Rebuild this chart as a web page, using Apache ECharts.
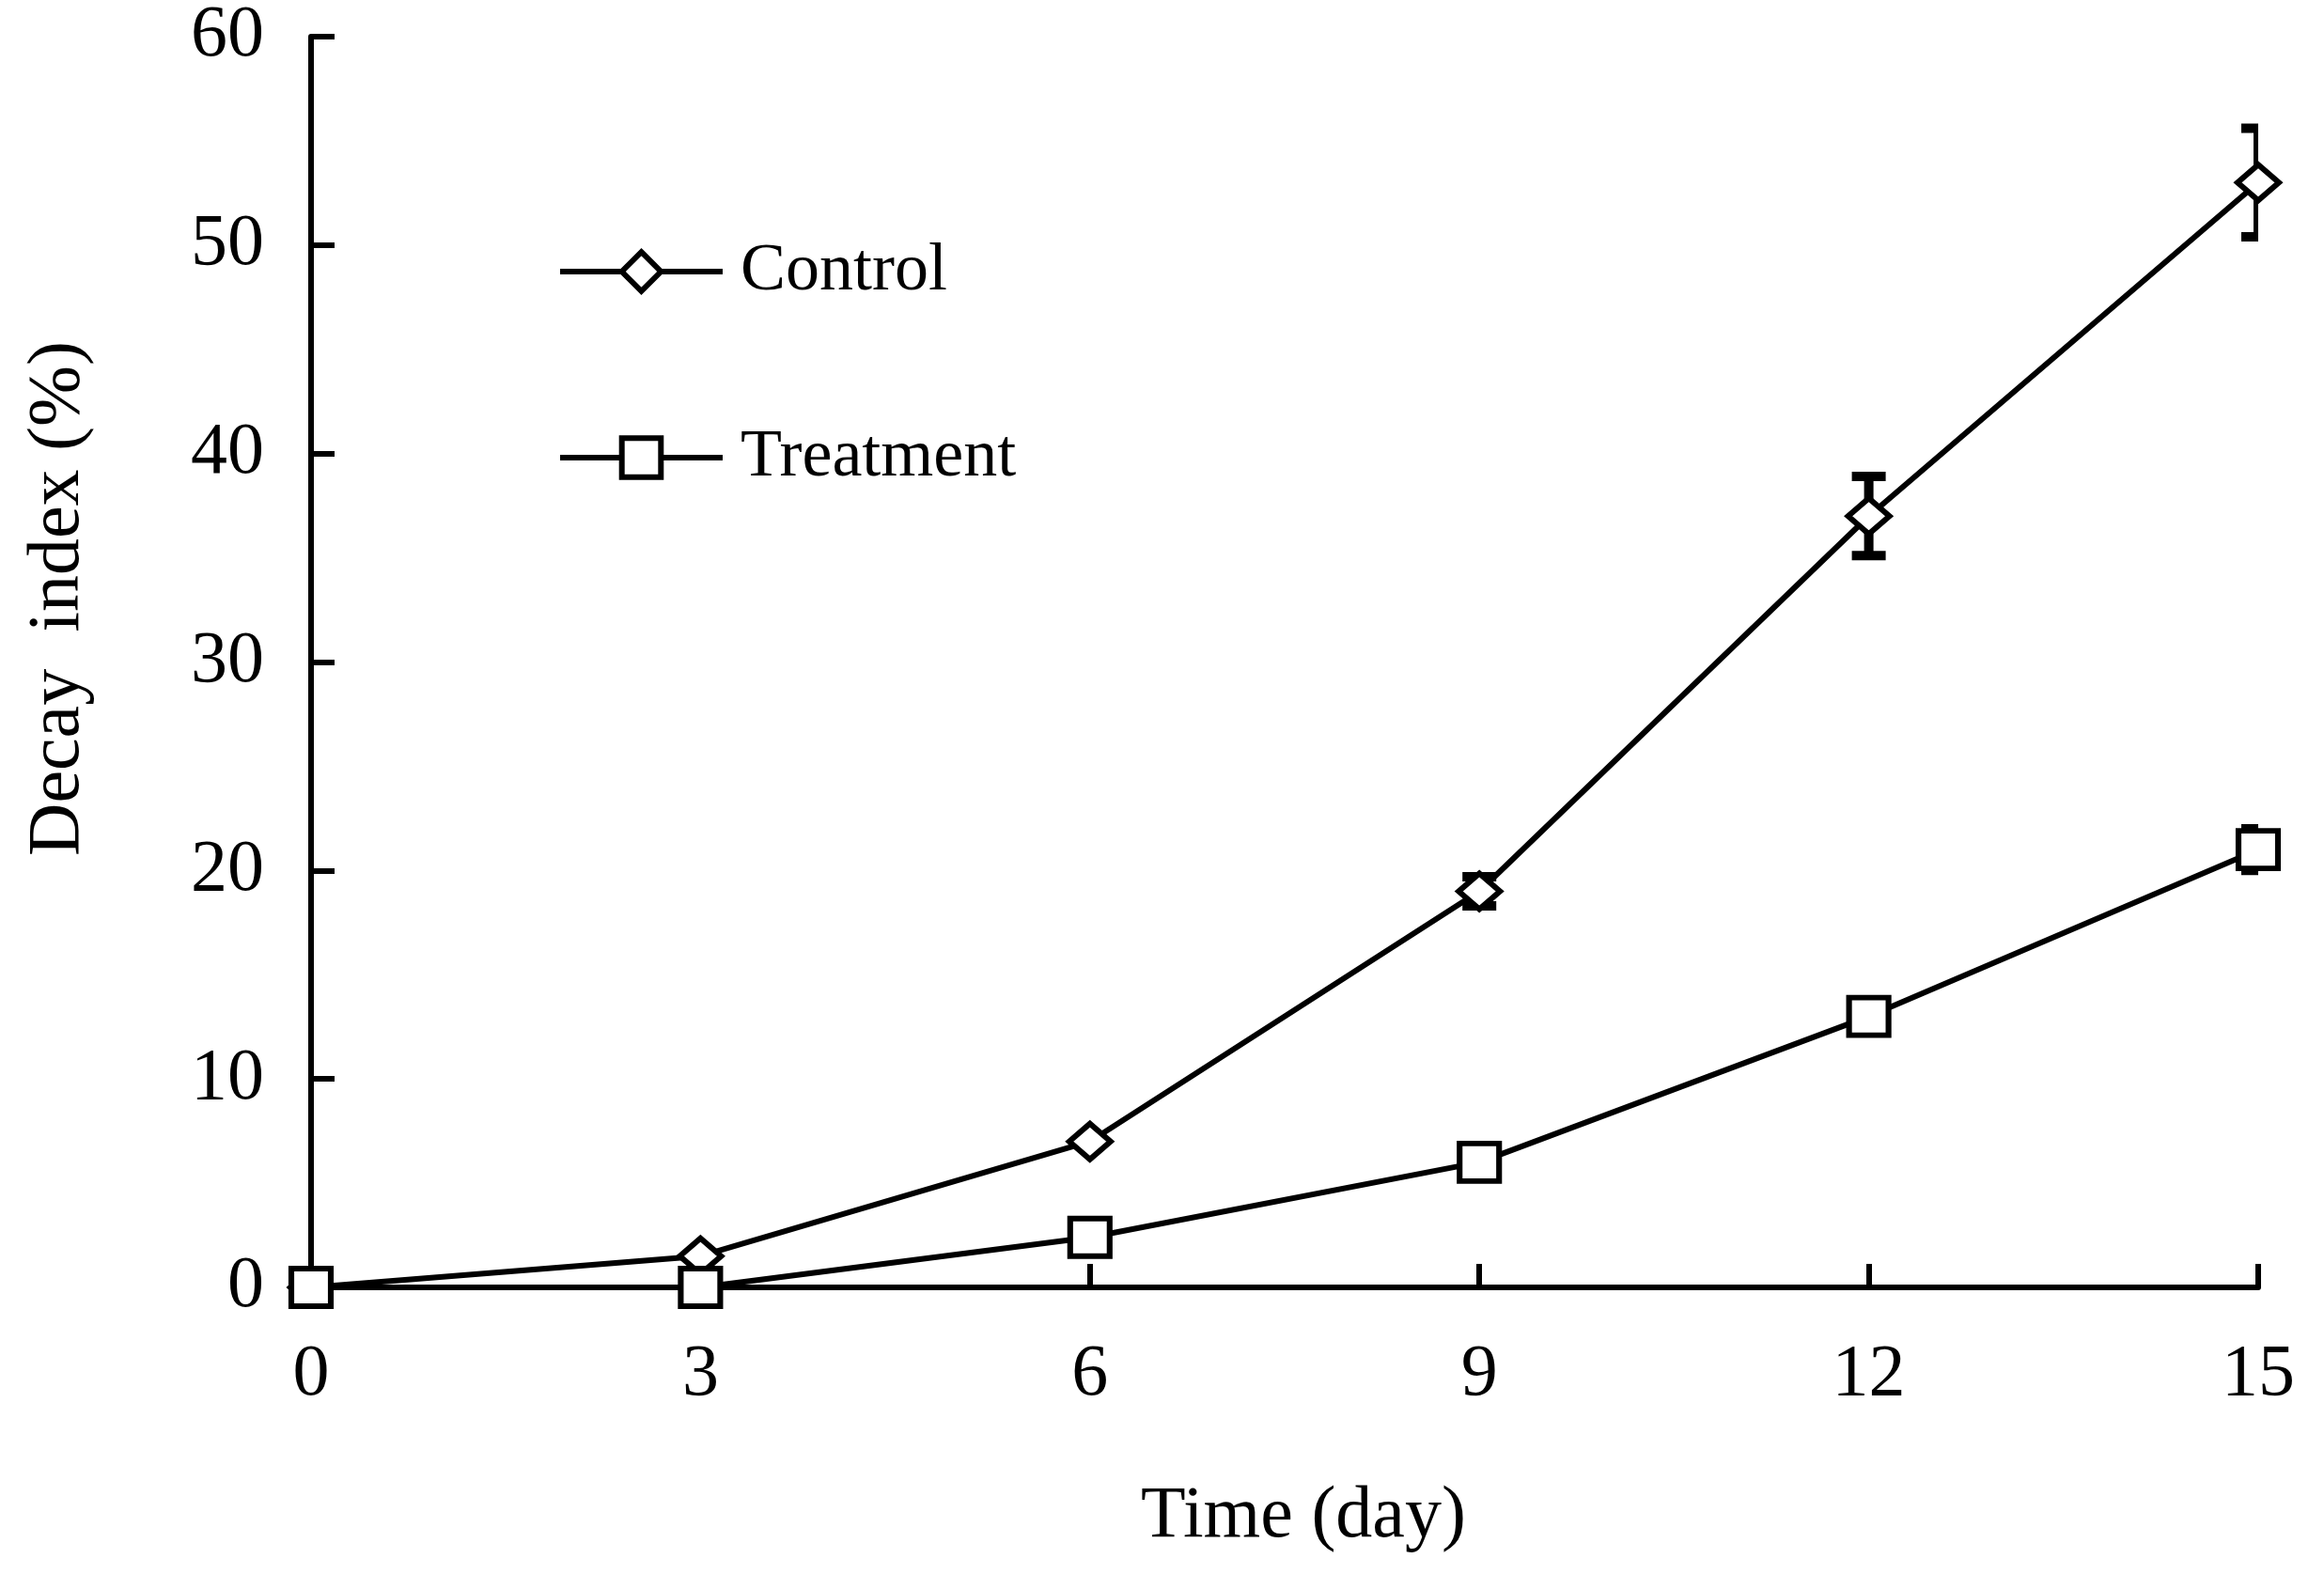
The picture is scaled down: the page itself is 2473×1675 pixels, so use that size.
<!DOCTYPE html>
<html><head><meta charset="utf-8">
<script src="https://cdn.jsdelivr.net/npm/echarts@6/dist/echarts.min.js"></script>
<style>html,body{margin:0;padding:0;background:#fff}#c{width:2473px;height:1675px}</style>
</head><body><div id="c"></div>
<script>
const days = [0, 3, 6, 9, 12, 15];
const controlMean = [0, 1.5, 7, 19, 37, 53];
const controlErr = [0, 0, 0, 0.7, 1.9, 2.6];
const treatmentMean = [0, 0, 2.4, 6, 13, 21];
const treatmentErr = [0, 0, 0, 0, 0, 1.0];
const xTickStep = 3;
const yTickStep = 10;
const seriesNames = ['Control', 'Treatment'];
const xTitle = 'Time (day)';
const yTitle = 'Decay  index (%)';

const FONT = "'Liberation Serif', 'Times New Roman', serif";
const FS = 78;
const LFS = 72;
const LW = 6;

function pairs(xs, ys) { return xs.map((x, i) => [x, ys[i]]); }
function errData(xs, ys, es) { return xs.map((x, i) => [x, ys[i] - es[i], ys[i] + es[i], es[i]]); }

function errRender(params, api) {
  if (api.value(3) <= 0) return null;
  const x = api.value(0);
  const lo = api.coord([x, api.value(1)]);
  const hi = api.coord([x, api.value(2)]);
  const w = 18;
  const st = { stroke: '#000', lineWidth: 10 };
  return {
    type: 'group',
    children: [
      { type: 'line', shape: { x1: lo[0], y1: lo[1], x2: hi[0], y2: hi[1] }, style: st },
      { type: 'line', shape: { x1: lo[0] - w, y1: lo[1], x2: lo[0] + w, y2: lo[1] }, style: st },
      { type: 'line', shape: { x1: hi[0] - w, y1: hi[1], x2: hi[0] + w, y2: hi[1] }, style: st }
    ]
  };
}

const chart = echarts.init(document.getElementById('c'), null, { renderer: 'canvas' });
const markerStyle = { color: '#fff', borderColor: '#000', borderWidth: LW };
const legendCommon = {
  orient: 'vertical', itemWidth: 173, itemHeight: 52, itemGap: 0,
  textStyle: { fontFamily: FONT, fontSize: LFS, color: '#000', padding: [0, 0, 0, 14] },
  itemStyle: { color: '#fff', borderColor: '#000', borderWidth: LW },
  lineStyle: { color: '#000', width: LW },
  selectedMode: false
};
chart.setOption({
  backgroundColor: '#fff',
  animation: false,
  grid: { left: 331, right: 70, top: 35, bottom: 305, containLabel: false },
  legend: [
    Object.assign({ data: [seriesNames[0]], left: 588, top: 248 }, legendCommon),
    Object.assign({ data: [seriesNames[1]], left: 588, top: 446 }, legendCommon)
  ],
  xAxis: {
    type: 'value', min: 0, max: 15, interval: xTickStep,
    name: xTitle, nameLocation: 'middle', nameGap: 206,
    nameTextStyle: { fontFamily: FONT, fontSize: FS, color: '#000', verticalAlign: 'top', padding: [0, 0, 0, 40] },
    axisLine: { show: true, lineStyle: { color: '#000', width: LW } },
    axisTick: { show: true, inside: true, length: 25, lineStyle: { color: '#000', width: LW } },
    axisLabel: { fontFamily: FONT, fontSize: FS, color: '#000', margin: 55 },
    splitLine: { show: false }
  },
  yAxis: {
    type: 'value', min: 0, max: 60, interval: yTickStep,
    axisLine: { show: true, lineStyle: { color: '#000', width: LW } },
    axisTick: { show: true, inside: true, length: 25, lineStyle: { color: '#000', width: LW } },
    axisLabel: { fontFamily: FONT, fontSize: FS, color: '#000', margin: 50 },
    splitLine: { show: false }
  },
  graphic: [{
    type: 'text', x: 63, y: 637, rotation: Math.PI / 2,
    style: { text: yTitle, font: FS + 'px ' + FONT, fill: '#000', textAlign: 'center', textVerticalAlign: 'middle' }
  }],
  series: [
    { name: seriesNames[0] + ' err', type: 'custom', renderItem: errRender, data: errData(days, controlMean, controlErr), clip: true, z: 1, silent: true },
    { name: seriesNames[1] + ' err', type: 'custom', renderItem: errRender, data: errData(days, treatmentMean, treatmentErr), clip: true, z: 1, silent: true },
    { name: seriesNames[0], type: 'line', data: pairs(days, controlMean), symbol: 'diamond', symbolSize: [44, 38],
      itemStyle: markerStyle, lineStyle: { color: '#000', width: LW }, z: 3 },
    { name: seriesNames[1], type: 'line', data: pairs(days, treatmentMean), symbol: 'rect', symbolSize: [42, 40],
      itemStyle: markerStyle, lineStyle: { color: '#000', width: LW }, z: 4 }
  ]
});
</script></body></html>
